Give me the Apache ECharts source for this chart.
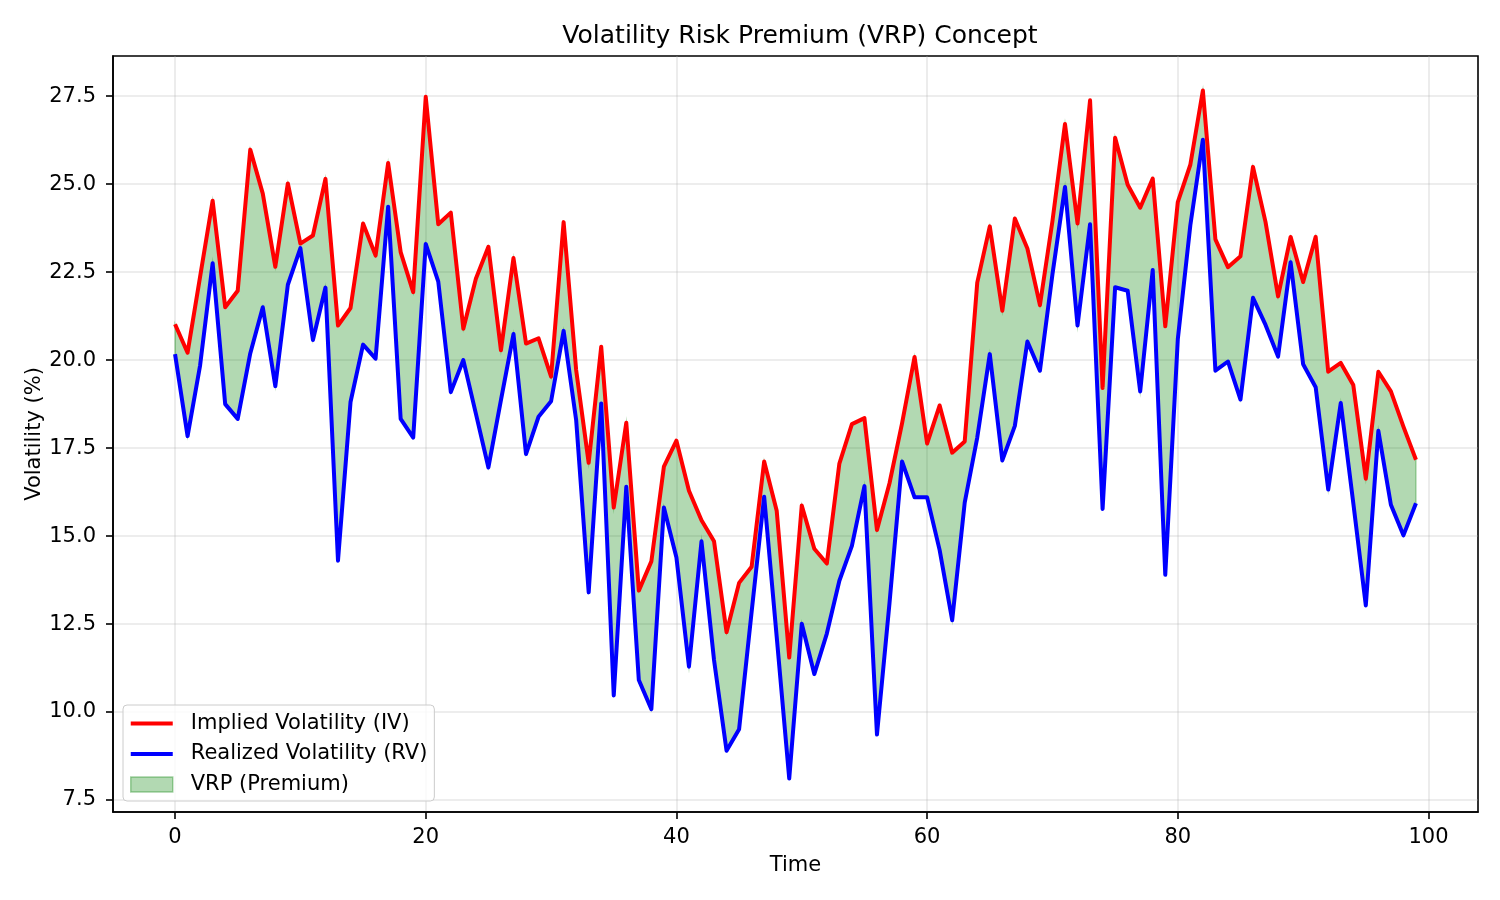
<!DOCTYPE html>
<html><head><meta charset="utf-8">
<script src="https://cdn.jsdelivr.net/npm/echarts@6/dist/echarts.min.js"></script>
<style>html,body{margin:0;padding:0;background:#fff}#c{width:1500px;height:900px}</style>
</head><body><div id="c"></div>
<script>
const time = Array.from({length: 100}, (_, i) => i);
const impliedVol = [
  21.02, 20.21, 22.37, 24.53, 21.50, 21.97, 25.98, 24.73, 22.65, 25.02,
  23.31, 23.54, 25.15, 20.98, 21.48, 23.88, 22.97, 25.60, 23.07, 21.93,
  27.48, 23.86, 24.19, 20.89, 22.31, 23.22, 20.28, 22.90, 20.47, 20.62,
  19.53, 23.92, 19.72, 17.08, 20.38, 15.81, 18.22, 13.45, 14.28, 16.97,
  17.71, 16.29, 15.45, 14.85, 12.27, 13.67, 14.13, 17.12, 15.72, 11.55,
  15.87, 14.64, 14.22, 17.06, 18.18, 18.35, 15.17, 16.50, 18.20, 20.09,
  17.63, 18.71, 17.37, 17.69, 22.20, 23.80, 21.40, 24.02, 23.17, 21.56,
  23.95, 26.71, 23.88, 27.38, 19.21, 26.32, 24.98, 24.33, 25.16, 20.96,
  24.49, 25.55, 27.66, 23.43, 22.64, 22.95, 25.49, 23.92, 21.81, 23.50,
  22.22, 23.50, 19.67, 19.92, 19.29, 16.63, 19.67, 19.11, 18.11, 17.17
];
const realizedVol = [
  20.17, 17.84, 19.85, 22.75, 18.75, 18.33, 20.19, 21.50, 19.26, 22.14,
  23.18, 20.57, 22.06, 14.30, 18.81, 20.44, 20.04, 24.36, 18.33, 17.80,
  23.30, 22.23, 19.09, 20.00, 18.48, 16.95, 18.86, 20.74, 17.33, 18.39,
  18.83, 20.83, 18.30, 13.40, 18.77, 10.47, 16.40, 10.91, 10.08, 15.81,
  14.39, 11.29, 14.85, 11.48, 8.90, 9.51, 12.85, 16.12, 12.14, 8.11,
  12.51, 11.08, 12.23, 13.73, 14.72, 16.42, 9.36, 13.10, 17.12, 16.10,
  16.10, 14.60, 12.61, 15.95, 17.80, 20.17, 17.15, 18.13, 20.53, 19.70,
  22.44, 24.92, 20.98, 23.86, 15.77, 22.07, 21.97, 19.11, 22.56, 13.90,
  20.59, 23.83, 26.26, 19.70, 19.96, 18.88, 21.77, 21.00, 20.10, 22.78,
  19.88, 19.23, 16.32, 18.78, 15.94, 13.03, 17.99, 15.89, 15.02, 15.93
];
const xTicks = [0, 20, 40, 60, 80, 100];
const yTicks = [7.5, 10, 12.5, 15, 17.5, 20, 22.5, 25, 27.5];

const FONT = 'DejaVu Sans';
const FS = 21;
const ivData = time.map((t, i) => [t, impliedVol[i]]);
const rvData = time.map((t, i) => [t, realizedVol[i]]);
const bandData = time.map((t, i) => [t, impliedVol[i], realizedVol[i]]);

const gridColor = 'rgba(176,176,176,0.3)';
const fillColor = 'rgba(0,128,0,0.3)';
const chart = echarts.init(document.getElementById('c'), null, {renderer: 'canvas'});
chart.setOption({
  animation: false,
  backgroundColor: '#ffffff',
  title: {
    text: 'Volatility Risk Premium (VRP) Concept',
    left: 795, top: 19, textAlign: 'center',
    textStyle: {fontFamily: FONT, fontSize: 25, fontWeight: 'normal', color: '#000'}
  },
  grid: {left: 113, right: 22, top: 56, bottom: 88, show: true, borderColor: '#000', borderWidth: 1.6},
  xAxis: {
    type: 'value', min: -4.95, max: 103.95,
    name: 'Time', nameLocation: 'middle', nameGap: 43,
    nameTextStyle: {fontFamily: FONT, fontSize: FS, color: '#000'},
    axisLine: {show: true, onZero: false, lineStyle: {color: '#000', width: 1.6}},
    axisTick: {show: true, length: 7, customValues: xTicks, lineStyle: {color: '#000', width: 1.6}},
    axisLabel: {customValues: xTicks, margin: 15, fontFamily: FONT, fontSize: FS, color: '#000'},
    splitLine: {show: true, lineStyle: {color: gridColor, width: 1.6}}
  },
  yAxis: {
    type: 'value', min: 7.16, max: 28.64,
    name: 'Volatility (%)', nameLocation: 'middle', nameGap: 68, nameMoveOverlap: false,
    nameTextStyle: {fontFamily: FONT, fontSize: FS, color: '#000'},
    axisLine: {show: true, onZero: false, lineStyle: {color: '#000', width: 1.6}},
    axisTick: {show: true, length: 7, customValues: yTicks, lineStyle: {color: '#000', width: 1.6}},
    axisLabel: {customValues: yTicks, margin: 17, fontFamily: FONT, fontSize: FS, color: '#000',
      formatter: v => v.toFixed(1)},
    splitLine: {show: true, lineStyle: {color: gridColor, width: 1.6}}
  },
  legend: {
    orient: 'vertical', left: 123, top: 705,
    itemWidth: 42, itemHeight: 15, itemGap: 9.5,
    padding: [8, 7, 6, 7],
    backgroundColor: 'rgba(255,255,255,0.8)', borderColor: '#cccccc', borderWidth: 1, borderRadius: 4,
    symbolKeepAspect: true,
    textStyle: {fontFamily: FONT, fontSize: FS, color: '#000', lineHeight: 21, padding: [0, 0, 0, 13]},
    data: [
      {name: 'Implied Volatility (IV)', icon: 'path://M0,0H42V4H0Z', itemStyle: {color: '#ff0000', borderWidth: 0}},
      {name: 'Realized Volatility (RV)', icon: 'path://M0,0H42V4H0Z', itemStyle: {color: '#0000ff', borderWidth: 0}},
      {name: 'VRP (Premium)', icon: 'rect', itemStyle: {color: fillColor, borderColor: 'rgba(0,128,0,0.35)', borderWidth: 1.5}}
    ]
  },
  series: [
    {
      name: 'VRP (Premium)', type: 'custom', data: bandData, silent: true, z: 1,
      itemStyle: {color: fillColor},
      encode: {x: 0, y: [1, 2]},
      renderItem: function (params, api) {
        if (params.dataIndex !== 0) return null;
        const pts = [];
        for (let i = 0; i < time.length; i++) pts.push(api.coord([time[i], impliedVol[i]]));
        for (let i = time.length - 1; i >= 0; i--) pts.push(api.coord([time[i], realizedVol[i]]));
        return {
          type: 'polygon',
          shape: {points: pts},
          style: {fill: fillColor, stroke: fillColor, lineWidth: 1.5}
        };
      }
    },
    {name: 'Implied Volatility (IV)', type: 'line', data: ivData, symbol: 'none', color: '#ff0000',
      lineStyle: {color: '#ff0000', width: 4, join: 'round'}, z: 3},
    {name: 'Realized Volatility (RV)', type: 'line', data: rvData, symbol: 'none', color: '#0000ff',
      lineStyle: {color: '#0000ff', width: 4, join: 'round'}, z: 3}
  ]
});
</script>
</body></html>
